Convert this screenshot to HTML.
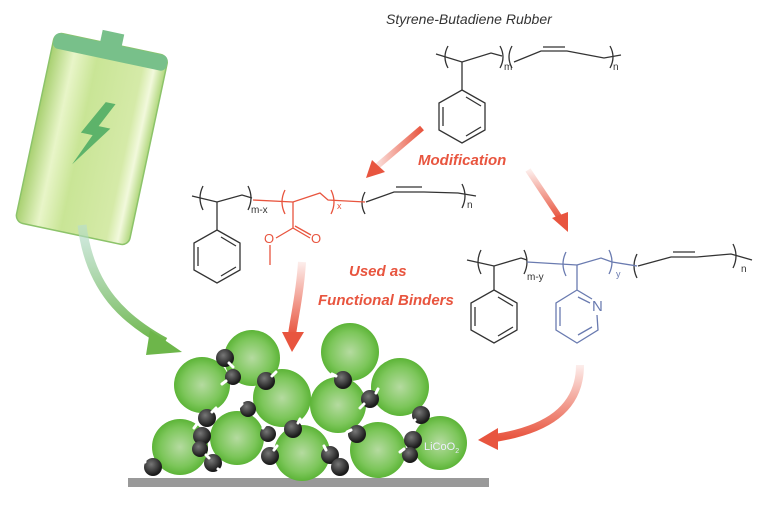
<!DOCTYPE html>
<html><head><meta charset="utf-8"><style>
html,body{margin:0;padding:0;background:#fff;}
svg{display:block;font-family:"Liberation Sans",sans-serif;}
</style></head><body>
<svg width="768" height="508" viewBox="0 0 768 508" xmlns="http://www.w3.org/2000/svg">
<defs>
<radialGradient id="gp" cx="0.5" cy="0.5" r="0.5">
<stop offset="0" stop-color="#b5dba0"/><stop offset="0.7" stop-color="#7cc65a"/><stop offset="1" stop-color="#5cb437"/></radialGradient>
<radialGradient id="bk" cx="0.4" cy="0.35" r="0.6">
<stop offset="0" stop-color="#777"/><stop offset="1" stop-color="#1a1a1a"/></radialGradient>
<linearGradient id="bat" x1="0" y1="0" x2="1" y2="0">
<stop offset="0" stop-color="#a8d070"/><stop offset="0.2" stop-color="#e8f5c8"/><stop offset="0.4" stop-color="#c9e596"/><stop offset="0.8" stop-color="#d5eaa8"/><stop offset="0.9" stop-color="#f2f9dc"/><stop offset="1" stop-color="#b0d77c"/></linearGradient>
<linearGradient id="ga" x1="0" y1="0" x2="0" y2="1">
<stop offset="0" stop-color="#b7ddd0" stop-opacity="0.6"/><stop offset="1" stop-color="#6db64a"/></linearGradient>
<linearGradient id="ra1" x1="0" y1="0" x2="1" y2="0"><stop offset="0" stop-color="#e8553f" stop-opacity="0.15"/><stop offset="1" stop-color="#e8553f"/></linearGradient>
<linearGradient id="ra2" x1="0" y1="0" x2="0" y2="1"><stop offset="0" stop-color="#e8553f" stop-opacity="0.1"/><stop offset="1" stop-color="#e8553f"/></linearGradient>
<linearGradient id="rv" x1="0" y1="0" x2="0" y2="1"><stop offset="0" stop-color="#e8553f" stop-opacity="0.1"/><stop offset="1" stop-color="#e8553f"/></linearGradient>
</defs>

<g transform="rotate(12 92 138)">
<rect x="34" y="42" width="116" height="194" rx="8" fill="url(#bat)" stroke="#8cc36a" stroke-width="1.5"/>
<rect x="34" y="42" width="116" height="16" rx="6" fill="#78c08a"/>
<rect x="80" y="30" width="22" height="14" fill="#78c08a"/>
<polygon points="98,100 80,135 92,135 78,168 108,125 96,125 108,100" fill="#5db36a"/>
</g>
<path d="M82,225 C90,290 125,320 165,342" stroke="url(#ga)" stroke-width="9" fill="none"/>
<polygon points="150,330 182,352 146,355" fill="#6db64a"/>

<path d="M422,128 L375,168" stroke="url(#ra1)" stroke-width="6" fill="none"/>
<polygon points="366,178 372,160 385,172" fill="#e8553f"/>
<path d="M528,170 L560,218" stroke="url(#ra2)" stroke-width="6" fill="none"/>
<polygon points="568,232 552,218 568,212" fill="#e8553f"/>
<path d="M302,262 C300,295 294,318 292,335" stroke="url(#rv)" stroke-width="8" fill="none"/>
<polygon points="282,332 304,332 292,352" fill="#e8553f"/>
<path d="M580,365 C580,410 545,430 495,438" stroke="url(#rv)" stroke-width="8" fill="none"/>
<polygon points="478,440 498,428 498,450" fill="#e8553f"/>

<g font-weight="bold" font-style="italic" fill="#e8553f" font-size="15">
<text x="418" y="165">Modification</text>
<text x="349" y="276">Used as</text>
<text x="318" y="305">Functional Binders</text>
</g>
<text x="386" y="24" font-size="14" font-style="italic" fill="#333">Styrene-Butadiene Rubber</text>

<g fill="none" stroke="#333" stroke-width="1.3">
<path d="M436,54 L462,62 L491,53 L502,56"/>
<path d="M448,46 Q442,57 448,68"/><path d="M500,46 Q506,57 500,68"/>
<path d="M512,46 Q506,57 512,68"/>
<path d="M514,62 L541,51 L567,51 L604,58 L621,55"/><path d="M543,47 L565,47"/>
<path d="M610,46 Q616,57 610,68"/>
<path d="M462,62 L462,90"/>
<polygon points="462,90 485,103 485,130 462,143 439,130 439,103"/>
<path d="M466,97 L481,106 M481,127 L466,136 M443,107 L443,126"/>
<path d="M192,196 L217,202 L242,195 L252,198"/>
<path d="M203,186 Q197,198 203,210"/><path d="M248,186 Q254,198 248,210"/>
<path d="M217,202 L217,230"/>
<polygon points="217,230 240,243 240,270 217,283 194,270 194,243"/>
<path d="M221,237 L236,246 M236,267 L221,276 M198,247 L198,266"/>
<path d="M365,192 Q359,203 365,214"/>
<path d="M366,202 L394,192 L424,192 L458,193 L476,196"/><path d="M396,187 L422,187"/>
<path d="M462,184 Q468,196 462,208"/>
<path d="M467,260 L494,266 L521,258 L527,260"/>
<path d="M481,250 Q475,262 481,274"/><path d="M524,250 Q530,262 524,274"/>
<path d="M637,254 Q631,266 637,278"/>
<path d="M638,266 L671,257 L697,257 L731,254 L752,260"/><path d="M673,252 L695,252"/>
<path d="M733,244 Q739,256 733,268"/>
<path d="M494,266 L494,290"/>
<polygon points="494,290 517,303 517,330 494,343 471,330 471,303"/>
<path d="M498,297 L513,306 M513,327 L498,336 M475,307 L475,326"/>
</g>
<g fill="none" stroke="#e8553f" stroke-width="1.3">
<path d="M253,200 L293,202 L320,193 L328,200 L365,202"/>
<path d="M285,190 Q279,202 285,214"/><path d="M331,190 Q337,202 331,214"/>
<path d="M293,202 L293,228 L310,238 M295,226 L311,235 M293,228 L276,238 M270,245 L270,265"/>
</g>
<g fill="#e8553f" font-size="13"><text x="311" y="243">O</text><text x="264" y="243">O</text></g>
<g fill="none" stroke="#6a7bb0" stroke-width="1.3">
<path d="M527,262 L577,265 L601,258 L612,262 L637,266"/>
<path d="M566,252 Q560,264 566,276"/><path d="M609,250 Q615,262 609,274"/>
<path d="M577,265 L577,290 L592,299 M597,315 L598,330 L577,343 L556,330 L556,303 L577,290"/>
<path d="M578,297 L590,303 M592,327 L578,335 M560,307 L560,326"/>
</g>
<text x="592" y="311" fill="#6a7bb0" font-size="15">N</text>
<g fill="#333" font-size="10">
<text x="504" y="70">m</text><text x="613" y="70">n</text>
<text x="251" y="213">m-x</text><text x="467" y="208">n</text>
<text x="527" y="280">m-y</text><text x="741" y="272">n</text>
</g>
<text x="337" y="209" fill="#e8553f" font-size="9">x</text>
<text x="616" y="277" fill="#6a7bb0" font-size="9">y</text>

<rect x="128" y="478" width="361" height="9" fill="#999"/>
<g fill="url(#gp)">
<circle cx="252" cy="358" r="28"/><circle cx="350" cy="352" r="29"/>
<circle cx="202" cy="385" r="28"/><circle cx="400" cy="387" r="29"/>
<circle cx="282" cy="398" r="29"/><circle cx="338" cy="405" r="28"/>
<circle cx="180" cy="447" r="28"/><circle cx="237" cy="438" r="27"/>
<circle cx="302" cy="453" r="28"/><circle cx="378" cy="450" r="28"/>
<circle cx="440" cy="443" r="27"/>
</g>
<text x="424" y="450" fill="#eef" font-size="11">LiCoO<tspan font-size="7" dy="3">2</tspan></text>
<g fill="url(#bk)">
<circle cx="225" cy="358" r="9"/><circle cx="233" cy="377" r="8"/>
<circle cx="266" cy="381" r="9"/><circle cx="248" cy="409" r="8"/>
<circle cx="207" cy="418" r="9"/><circle cx="202" cy="436" r="9"/><circle cx="200" cy="449" r="8"/>
<circle cx="213" cy="463" r="9"/><circle cx="153" cy="467" r="9"/>
<circle cx="268" cy="434" r="8"/><circle cx="270" cy="456" r="9"/><circle cx="293" cy="429" r="9"/>
<circle cx="343" cy="380" r="9"/><circle cx="370" cy="399" r="9"/>
<circle cx="357" cy="434" r="9"/><circle cx="330" cy="455" r="9"/><circle cx="340" cy="467" r="9"/>
<circle cx="421" cy="415" r="9"/><circle cx="413" cy="440" r="9"/><circle cx="410" cy="455" r="8"/>
</g>
<g stroke="#fff" stroke-width="3" stroke-linecap="round">
<path d="M229,363 L233,367 M226,381 L222,384 M272,376 L276,372 M242,404 L238,408"/>
<path d="M212,412 L216,408 M197,424 L194,428 M206,455 L209,458 M218,469 L222,472 M145,462 L141,460"/>
<path d="M263,428 L266,424 M274,450 L277,446 M298,423 L300,419 M336,376 L332,374"/>
<path d="M376,393 L378,389 M364,404 L360,408 M351,430 L347,432 M326,450 L324,446"/>
<path d="M415,420 L411,423 M404,449 L400,452"/>
</g>
</svg>
</body></html>
